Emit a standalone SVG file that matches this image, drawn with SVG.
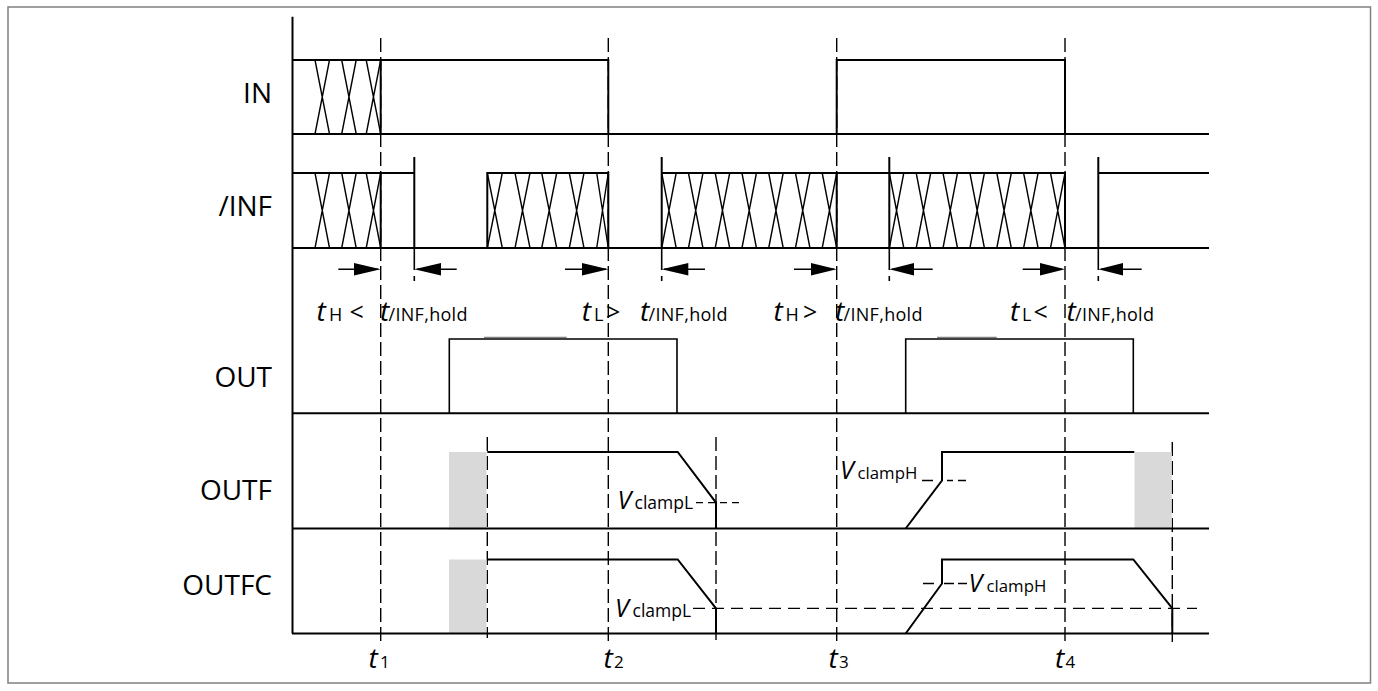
<svg xmlns="http://www.w3.org/2000/svg" width="1378" height="691" viewBox="0 0 1378 691">
<style>
.sig{fill:none;stroke:#000;stroke-width:2;stroke-linejoin:miter}
.thin{fill:none;stroke:#000;stroke-width:1.6}
.x{fill:none;stroke:#000;stroke-width:1.4}
.dv{fill:none;stroke:#000;stroke-width:1.4;stroke-dasharray:14 5}
.dh{fill:none;stroke:#000;stroke-width:1.3;stroke-dasharray:12 7}
.gray{fill:#d9d9d9;stroke:none}
.lbl{font-family:"Open Sans","Liberation Sans",sans-serif;font-size:28px;fill:#000;text-anchor:end}
.t{font-family:"Open Sans","Liberation Sans",sans-serif;font-size:28px;font-style:italic;fill:#000}
.v{font-family:"Open Sans","Liberation Sans",sans-serif;font-size:25px;font-style:italic;fill:#000}
.sub{font-family:"Open Sans","Liberation Sans",sans-serif;font-size:18px;fill:#000}
.subw{font-family:"Open Sans","Liberation Sans",sans-serif;font-size:18px;fill:#000;letter-spacing:0.3px}
.cl{font-family:"Open Sans","Liberation Sans",sans-serif;font-size:17.5px;fill:#000}
.op{font-family:"Open Sans","Liberation Sans",sans-serif;font-size:25px;fill:#000}
.num{font-family:"Open Sans","Liberation Sans",sans-serif;font-size:17px;fill:#000}
.ah{fill:#000;stroke:none}
</style>

<rect x="8" y="7" width="1362.5" height="676" fill="#fff" stroke="#808080" stroke-width="1.5"/>

<g id="axis">
<path class="sig" d="M292.5 16.7 V633.5"/>
</g>

<g id="time-markers">
<path class="dv" d="M380.7 38 V641"/>
<path class="dv" d="M608.3 38 V641"/>
<path class="dv" d="M836.7 38 V641"/>
<path class="dv" d="M1065 38 V641"/>
<path class="dv" d="M487.3 437 V638"/>
<path class="dv" d="M716 437 V640"/>
<path class="dv" d="M1172.3 442 V642"/>
<text class="t" x="368.5" y="668">t</text><text class="num" x="380" y="668">1</text>
<text class="t" x="603.5" y="668">t</text><text class="num" x="614" y="668">2</text>
<text class="t" x="828.5" y="668">t</text><text class="num" x="839" y="668">3</text>
<text class="t" x="1055" y="668">t</text><text class="num" x="1065.5" y="668">4</text>
</g>

<g id="IN">
<text class="lbl" x="272" y="103">IN</text>
<path class="sig" d="M292 134 H1209"/>
<path class="sig" d="M292 60 H608.3 V134"/>
<path class="sig" d="M836.7 134 V60 H1065 V134"/>
<path class="sig" d="M380.7 60 V134"/>
<path class="x" d="M315 60 L329.5 134 M329.5 60 L315 134 M341.7 60 L356.2 134 M356.2 60 L341.7 134 M366.2 60 L380.7 134 M380.7 60 L366.2 134"/>
</g>

<g id="INF">
<text class="lbl" x="272" y="216">/INF</text>
<path class="sig" d="M292 248 H1209"/>
<path class="sig" d="M292 173 H414.3 M414.3 157 V248"/>
<path class="sig" d="M380.7 173 V248"/>
<path class="sig" d="M487.3 248 V173 H608.3 V248"/>
<path class="sig" d="M661.7 157 V248 M661.7 173 H1065 V248"/>
<path class="sig" d="M836.7 173 V248"/>
<path class="sig" d="M889.3 157 V248"/>
<path class="sig" d="M1098.3 157 V248 M1098.3 173 H1209"/>
<path class="thin" d="M414.3 248 V270 M414.3 276 V281 M661.7 248 V270 M661.7 276 V281 M889.3 248 V270 M889.3 276 V281 M1098.3 248 V270 M1098.3 276 V281"/>
<path class="x" d="M315 173 L329.5 248 M329.5 173 L315 248 M341.7 173 L356.2 248 M356.2 173 L341.7 248 M366.2 173 L380.7 248 M380.7 173 L366.2 248"/>
<path class="x" d="M487.3 173 L502.3 248 M502.3 173 L487.3 248 M515 173 L530 248 M530 173 L515 248 M541.7 173 L556.7 248 M556.7 173 L541.7 248 M569.3 173 L584 248 M584 173 L569.3 248 M596.7 173 L608.3 248 M608.3 173 L596.7 248"/>
<path class="x" d="M661.7 173 L676.2 248 M676.2 173 L661.7 248 M688.45 173 L702.95 248 M702.95 173 L688.45 248 M715.2 173 L729.7 248 M729.7 173 L715.2 248 M741.95 173 L756.45 248 M756.45 173 L741.95 248 M768.7 173 L783.2 248 M783.2 173 L768.7 248 M795.45 173 L809.95 248 M809.95 173 L795.45 248 M822.2 173 L836.7 248 M836.7 173 L822.2 248"/>
<path class="x" d="M889.3 173 L903.8 248 M903.8 173 L889.3 248 M916.2 173 L930.7 248 M930.7 173 L916.2 248 M943 173 L957.5 248 M957.5 173 L943 248 M969.9 173 L984.4 248 M984.4 173 L969.9 248 M996.8 173 L1011.3 248 M1011.3 173 L996.8 248 M1023.6 173 L1038.1 248 M1038.1 173 L1023.6 248 M1050.5 173 L1065 248 M1065 173 L1050.5 248"/>
</g>

<g id="connectors">
<path class="thin" d="M338.3 269.3 H378"/>
<polygon class="ah" points="354,263 380.7,269.3 354,275.6"/>
<path class="thin" d="M417 269.3 H456.7"/>
<polygon class="ah" points="414.3,269.3 441,263 441,275.6"/>
<path class="thin" d="M565 269.3 H606"/>
<polygon class="ah" points="582,263 608.3,269.3 582,275.6"/>
<path class="thin" d="M664 269.3 H705"/>
<polygon class="ah" points="661.7,269.3 688.3,263 688.3,275.6"/>
<path class="thin" d="M794 269.3 H834"/>
<polygon class="ah" points="811,263 836.7,269.3 811,275.6"/>
<path class="thin" d="M892 269.3 H932.7"/>
<polygon class="ah" points="889.3,269.3 914,263 914,275.6"/>
<path class="thin" d="M1022.7 269.3 H1062"/>
<polygon class="ah" points="1040,263 1065,269.3 1040,275.6"/>
<path class="thin" d="M1101 269.3 H1141.7"/>
<polygon class="ah" points="1098.3,269.3 1123,263 1123,275.6"/>
</g>

<g id="timing-labels">
<text class="t" x="316.5" y="321">t</text><text class="sub" x="329" y="321">H</text><text class="op" x="349.5" y="321">&lt;</text>
<text class="t" x="380" y="321">t</text><text class="subw" x="388.5" y="321">/INF,hold</text>
<text class="t" x="581.8" y="321">t</text><text class="sub" x="594" y="321">L</text><text class="op" x="606" y="321">&gt;</text>
<text class="t" x="640" y="321">t</text><text class="subw" x="648.5" y="321">/INF,hold</text>
<text class="t" x="773.5" y="321">t</text><text class="sub" x="785.5" y="321">H</text><text class="op" x="803" y="321">&gt;</text>
<text class="t" x="835" y="321">t</text><text class="subw" x="843.5" y="321">/INF,hold</text>
<text class="t" x="1010" y="321">t</text><text class="sub" x="1022" y="321">L</text><text class="op" x="1033.5" y="321">&lt;</text>
<text class="t" x="1066.5" y="321">t</text><text class="subw" x="1075" y="321">/INF,hold</text>
</g>

<g id="OUT">
<text class="lbl" x="272" y="387">OUT</text>
<path class="sig" d="M292 413.3 H1209"/>
<path class="thin" d="M449.3 413.3 V339 H677 V413.3"/>
<path class="thin" d="M905.7 413.3 V339 H1133.3 V413.3"/>
<path fill="none" stroke="#808080" stroke-width="1.2" d="M484 337.4 H566.7 M937 337.4 H996.7"/>
</g>

<g id="OUTF">
<text class="lbl" x="272" y="500">OUTF</text>
<rect class="gray" x="449" y="452" width="37.5" height="77.5"/>
<rect class="gray" x="1134.5" y="452" width="37.2" height="77"/>
<path class="sig" d="M292 528.5 H1209"/>
<path class="sig" d="M487.3 452 H677.7 L716 502.7 V528.5"/>
<path class="sig" d="M905.7 528.5 L942 480.5 V452 H1134.3"/>
<path fill="none" stroke="#000" stroke-width="1.3" stroke-dasharray="7 5" d="M696 502.7 H741"/>
<path fill="none" stroke="#000" stroke-width="1.3" d="M922 480.5 H933 M947 480.5 H953 M958 480.5 H966"/>
<text class="v" x="617.5" y="508.5">V</text><text class="cl" x="634.5" y="508.5">clampL</text>
<text class="v" x="840" y="478.5">V</text><text class="cl" x="857.5" y="478.5" style="font-size:16.8px">clampH</text>
</g>

<g id="OUTFC">
<text class="lbl" x="272" y="594.5">OUTFC</text>
<rect class="gray" x="449" y="559.5" width="37.5" height="74"/>
<path class="sig" d="M292 633.5 H1209"/>
<path class="sig" d="M487.3 559.5 H677.7 L716 608.3 V633.5"/>
<path class="sig" d="M905.7 633.5 L942 583.5 V559.5 H1133.3 L1172.3 608.3 V633.5"/>
<path class="dh" d="M693 608.3 H1197"/>
<path fill="none" stroke="#000" stroke-width="1.3" d="M923 583.5 H934 M944 583.5 H954 M958 583.5 H967"/>
<text class="v" x="615" y="616.5">V</text><text class="cl" x="632.5" y="616.5">clampL</text>
<text class="v" x="968.5" y="591.5">V</text><text class="cl" x="986.5" y="591.5" style="font-size:16.8px">clampH</text>
</g>
</svg>
